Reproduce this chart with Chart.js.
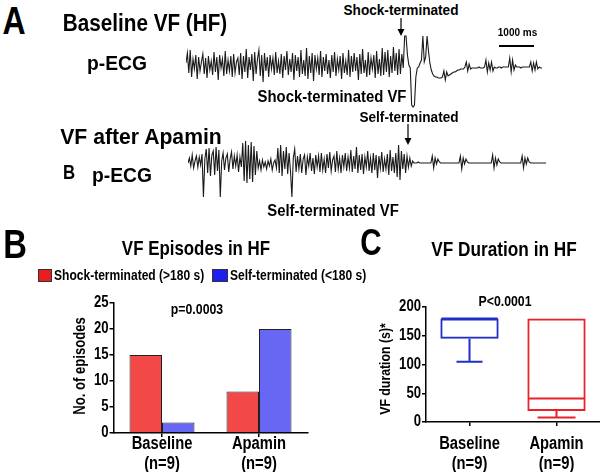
<!DOCTYPE html>
<html><head><meta charset="utf-8">
<script src="https://cdn.jsdelivr.net/npm/chart.js@4/dist/chart.umd.min.js"></script>
<style>
html,body{margin:0;padding:0;background:#fff;}
#wrap{position:relative;width:600px;height:472px;overflow:hidden;background:#fff;}
canvas{position:absolute;}
.t{position:absolute;white-space:nowrap;line-height:1;font-weight:bold;color:#000;font-family:'Liberation Sans',Arial,sans-serif;}
.nc{transform:translate(-50%,-50%) scaleX(0.82);}
.nl{transform-origin:left center;transform:translate(0,-50%) scaleX(0.82);}
.nr{transform:translate(-50%,-50%) rotate(-90deg) scaleX(0.82);}
.box{position:absolute;border:1px solid #333;}
</style></head>
<body>
<div id="wrap">
  <canvas id="ecgA" width="356" height="80" style="left:186px;top:30px"></canvas>
  <canvas id="ecgB" width="358" height="85" style="left:188px;top:125px"></canvas>
  <canvas id="barB" width="250" height="182" style="left:60px;top:290px"></canvas>
  <canvas id="boxC" width="230" height="182" style="left:370px;top:290px"></canvas>

  <div class="t nc" style="left:14px;top:19.5px;font-size:39px">A</div>
  <div class="t" style="left:144.5px;top:23.4px;font-size:23px;transform:translate(-50%,-50%) scaleX(0.9)">Baseline VF (HF)</div>
  <div class="t" style="left:117px;top:63.4px;font-size:20.5px;transform:translate(-50%,-50%) scaleX(0.94)">p-ECG</div>
  <div class="t" style="left:400.5px;top:9.5px;font-size:15.4px;transform:translate(-50%,-50%) scaleX(0.885)">Shock-terminated</div>
  <div class="t" style="left:517.5px;top:33px;font-size:10px;transform:translate(-50%,-50%)">1000 ms</div>
  <div style="position:absolute;left:499px;top:45px;width:35px;height:2px;background:#000"></div>
  <div class="t" style="left:332px;top:97px;font-size:16px;transform:translate(-50%,-50%) scaleX(0.93)">Shock-terminated VF</div>
  <div class="t" style="left:140.5px;top:137px;font-size:22.3px;transform:translate(-50%,-50%) scaleX(0.95)">VF after Apamin</div>
  <div class="t" style="left:69px;top:173px;font-size:19.5px;transform:translate(-50%,-50%) scaleX(0.86)">B</div>
  <div class="t" style="left:122px;top:175px;font-size:20.5px;transform:translate(-50%,-50%) scaleX(0.94)">p-ECG</div>
  <div class="t" style="left:409px;top:117px;font-size:15.4px;transform:translate(-50%,-50%) scaleX(0.885)">Self-terminated</div>
  <div class="t" style="left:332.5px;top:211px;font-size:16px;transform:translate(-50%,-50%) scaleX(0.93)">Self-terminated VF</div>
  <svg style="position:absolute;left:0;top:0" width="600" height="472">
    <line x1="401" y1="18" x2="401" y2="30" stroke="#000" stroke-width="1.2"/>
    <polygon points="397.5,29 404.5,29 401,36" fill="#000"/>
    <line x1="408" y1="124" x2="408" y2="139" stroke="#000" stroke-width="1.2"/>
    <polygon points="404.5,138 411.5,138 408,145" fill="#000"/>
  </svg>

  <div class="t nc" style="left:15px;top:244px;font-size:40px">B</div>
  <div class="t nc" style="left:196px;top:248px;font-size:20.6px">VF Episodes in HF</div>
  <div class="box" style="left:38px;top:269px;width:12px;height:11px;background:#E81E1E"></div>
  <div class="t nl" style="left:54px;top:275px;font-size:14.7px">Shock-terminated (&gt;180 s)</div>
  <div class="box" style="left:212px;top:269px;width:14px;height:11px;background:#1E1EF0"></div>
  <div class="t nl" style="left:230px;top:275px;font-size:14.7px">Self-terminated (&lt;180 s)</div>
  <div class="t nc" style="left:197px;top:308px;font-size:15px">p=0.0003</div>
  <div class="t nr" style="left:80px;top:366px;font-size:16px">No. of episodes</div>

  <div class="t nc" style="left:371px;top:242.5px;font-size:36px">C</div>
  <div class="t nc" style="left:504px;top:248px;font-size:21px">VF Duration in HF</div>
  <div class="t nc" style="left:505px;top:300px;font-size:15px">P&lt;0.0001</div>
  <div class="t nr" style="left:384px;top:368.5px;font-size:15px">VF duration (s)*</div>
</div>
<script>
// ---- Panel A: pseudo-ECG traces (samples, arbitrary units, up = positive) ----
const ecgBaselineVF = [
 2,12,-8,15,-12,6,-4,10,-14,8,-6,3,11,-9,7,-13,9,-5,4,-10,
 13,-7,8,-15,10,-3,6,-11,14,-9,5,-6,9,-12,11,-8,3,7,-10,12,
 -14,9,-7,16,-13,8,-5,11,-16,13,-9,6,15,-11,10,-17,12,-6,8,-12,
 10,-4,7,-10,13,-8,4,-9,11,-13,9,-5,14,-10,6,-7,12,-15,10,-6,
 8,-12,15,-9,5,-11,17,-14,9,-8,12,-16,10,-4,7,-10,14,-12,8,-6,
 11,-9,5,-13,10,-7,13,-11,6,-5,9,-14,12,-8,4,-10,15,-12,9,-7,
 12,-6,8,-15,11,-9,16,-8,5,-12,13,-10,7,-4,10,-13,14,-9,6,-11,
 17,-10,13,-7,15,-12,9,-8,18,-6,12,-10,16,-9,11,-3,
 29,29,10,0,-3,-40,-42,-40,-12,-3,-2,2,5,29,3,8,29,14,2,-5,-9,-11,-12,-12,-13,-13,
 -13,-12,-6,-15,-7,-11,-10,-9,-8,-7,
 -7,-6,-5,-5,-4,-4,-4,-2,3,-6,
 1,-4,-3,-3,-3,-3,-3,-2,-3,-3,
 -3,-2,5,-7,2,-5,3,-6,-2,-3,
 -3,-2,-2,-3,-2,-2,-2,-2,-2,7,
 -7,5,-5,0,-2,-2,-2,-3,-2,-2,
 -2,-2,-2,-2,3,-6,2,-5,3,-4,
 -2,-3,-3
];
const ecgApaminVF = [
 0,5,-3,8,-5,2,7,-4,6,-2,9,
 -34,4,
 14,-10,15,-13,8,12,-12,16,-8,13,
 -34,2,
 10,-7,5,9,-9,4,11,-6,7,-3,8,-9,6,
 -4,
 20,-18,22,-20,18,-16,21,-19,17,-12,12,
 -5,2,-7,3,-4,1,-6,2,-3,4,-7,0,3,-5,
 15,-10,18,-13,12,-6,16,-11,10,-8,-34,5,14,-9,
 7,-6,9,-10,4,8,-12,6,-3,10,-8,5,-11,8,-4,7,-9,
 10,-7,4,-10,9,-5,11,-8,3,7,-9,12,-6,5,-10,8,-4,10,-8,6,-5,13,-9,7,-6,16,-10,8,-7,
 9,-11,6,-4,12,-8,5,-10,10,-7,8,-15,7,-5,11,-9,4,-6,9,-12,13,-8,6,-10,10,-14,18,-17,12,-6,9,-10,7,-4,5,-3,2,0,
 0,0,1,0,0,0,0,0,0,0,0,0,
 7,-5,5,-1,4,1,0,
 0,0,0,0,0,0,0,0,0,0,0,0,0,
 7,-6,5,-1,4,1,0,
 0,0,0,0,0,0,0,0,0,0,0,0,0,0,0,0,
 8,-5,5,-2,4,1,0,
 0,0,0,0,0,0,0,0,0,0,0,0,0,0,
 7,-5,5,-1,5,1,0,
 0,0,0,0,0,0,0,0,0,0,0
];

// ---- Panel B: VF episodes ----
const episodeCategories = [['Baseline','(n=9)'],['Apamin','(n=9)']];
const shockTerminated = [15, 8];
const selfTerminated = [2, 20];
const episodeTicks = [0,5,10,15,20,25];

// ---- Panel C: VF duration (box plot) ----
const durationCategories = [['Baseline','(n=9)'],['Apamin','(n=9)']];
const durMin = [105, 8];
const durQ1 = [145, 19];
const durMedian = [180, 41];
const durQ3 = [180, 180];
const durMax = [180, 180];
const durationTicks = [0,50,100,150,200];

const FONT = "'Liberation Sans',Arial,sans-serif";
const NARROW = 0.82;
const base = {responsive:false, animation:false, events:[],
  plugins:{legend:{display:false}, tooltip:{enabled:false}}};

function ecgChart(id, values, yMin, yMax){
  new Chart(document.getElementById(id), {
    type:'line',
    data:{datasets:[{data: values.map((v,i)=>({x:i,y:v})), borderColor:'#1a1a1a',
      borderWidth:1.1, pointRadius:0, tension:0, fill:false}]},
    options:Object.assign({}, base, {layout:{padding:0},
      scales:{x:{type:'linear', display:false, min:0, max:values.length-1},
              y:{display:false, min:yMin, max:yMax}}})
  });
}
ecgChart('ecgA', ecgBaselineVF, -45, 35);
ecgChart('ecgB', ecgApaminVF, -47, 38);

// Condensed tick labels drawn at the library's own tick positions
const narrowTicks = {id:'narrowTicks', afterDraw(chart, args, o){
  const ctx = chart.ctx;
  const xs = chart.scales.x, ys = chart.scales.y;
  ctx.save(); ctx.fillStyle = '#000';
  ctx.font = 'bold ' + o.xSize + 'px ' + FONT;
  ctx.textAlign = 'center'; ctx.textBaseline = 'middle';
  xs.ticks.forEach((t,i)=>{
    const px = xs.getPixelForTick(i);
    const lines = Array.isArray(t.label) ? t.label : [String(t.label)];
    lines.forEach((ln,j)=>{
      ctx.save(); ctx.translate(px, o.xY0 + j*o.xLine); ctx.scale(NARROW,1);
      ctx.fillText(ln, 0, 0); ctx.restore();
    });
  });
  ctx.font = 'bold ' + o.ySize + 'px ' + FONT;
  ctx.textAlign = 'right';
  ys.ticks.forEach((t,i)=>{
    const py = ys.getPixelForTick(i);
    ctx.save(); ctx.translate(ys.right - 5, py); ctx.scale(NARROW,1);
    ctx.fillText(String(t.label), 0, 0); ctx.restore();
  });
  ctx.restore();
}};

const axisGrid = {drawOnChartArea:false, offset:false, tickLength:4, color:'#000', lineWidth:1.5};
const axisBorder = {color:'#000', width:1.5};

new Chart(document.getElementById('barB'), {
  type:'bar',
  data:{labels: episodeCategories, datasets:[
    {data: shockTerminated, backgroundColor:'#F24848', borderColor:'#202020', borderWidth:1, categoryPercentage:0.67, barPercentage:1},
    {data: selfTerminated, backgroundColor:'#6767F3', borderColor:'#202020', borderWidth:1, categoryPercentage:0.67, barPercentage:1}
  ]},
  options:Object.assign({}, base, {
    plugins:{legend:{display:false}, tooltip:{enabled:false},
      narrowTicks:{xSize:18, xY0:154.5, xLine:20, ySize:16}},
    layout:{padding:{left:0,right:2.5,top:13,bottom:0}},
    scales:{
      x:{grid:axisGrid, border:axisBorder, ticks:{display:false}, afterFit:s=>{s.height=39;}},
      y:{min:0, max:25, grid:axisGrid, border:axisBorder, ticks:{display:false},
         afterBuildTicks:s=>{s.ticks = episodeTicks.map(v=>({value:v}));},
         afterFit:s=>{s.width=53.5;}}
    }}),
  plugins:[narrowTicks]
});

const boxColors = ['#1F2FC8','#E8222A'];
const capHalf = [13, 19];
const whiskers = {id:'whiskers', afterDatasetsDraw(chart){
  const ctx = chart.ctx, ys = chart.scales.y, meta = chart.getDatasetMeta(0);
  durMedian.forEach((m,i)=>{
    const el = meta.data[i], x = el.x, hw = el.width/2;
    const py = v => ys.getPixelForValue(v);
    ctx.save(); ctx.strokeStyle = boxColors[i]; ctx.lineWidth = 2; ctx.beginPath();
    ctx.moveTo(x-hw+1, py(m)); ctx.lineTo(x+hw-1, py(m));
    if (durMin[i] < durQ1[i]) {
      ctx.moveTo(x, py(durQ1[i])); ctx.lineTo(x, py(durMin[i]));
      ctx.moveTo(x-capHalf[i], py(durMin[i])); ctx.lineTo(x+capHalf[i], py(durMin[i]));
    }
    if (durMax[i] > durQ3[i]) {
      ctx.moveTo(x, py(durQ3[i])); ctx.lineTo(x, py(durMax[i]));
      ctx.moveTo(x-capHalf[i], py(durMax[i])); ctx.lineTo(x+capHalf[i], py(durMax[i]));
    }
    ctx.stroke(); ctx.restore();
  });
}};

new Chart(document.getElementById('boxC'), {
  type:'bar',
  data:{labels: durationCategories, datasets:[
    {data: durQ1.map((q,i)=>[q, durQ3[i]]), backgroundColor:'rgba(0,0,0,0)', borderColor:boxColors,
     borderWidth:2, borderSkipped:false, categoryPercentage:1, barPercentage:0.67}
  ]},
  options:Object.assign({}, base, {
    plugins:{legend:{display:false}, tooltip:{enabled:false},
      narrowTicks:{xSize:18, xY0:154.5, xLine:20, ySize:16}},
    layout:{padding:{left:0,right:0,top:17,bottom:0}},
    scales:{
      x:{grid:axisGrid, border:axisBorder, ticks:{display:false}, afterFit:s=>{s.height=50;}},
      y:{min:0, max:200, grid:axisGrid, border:axisBorder, ticks:{display:false},
         afterBuildTicks:s=>{s.ticks = durationTicks.map(v=>({value:v}));},
         afterFit:s=>{s.width=56;}}
    }}),
  plugins:[whiskers, narrowTicks]
});
</script>
</body></html>
